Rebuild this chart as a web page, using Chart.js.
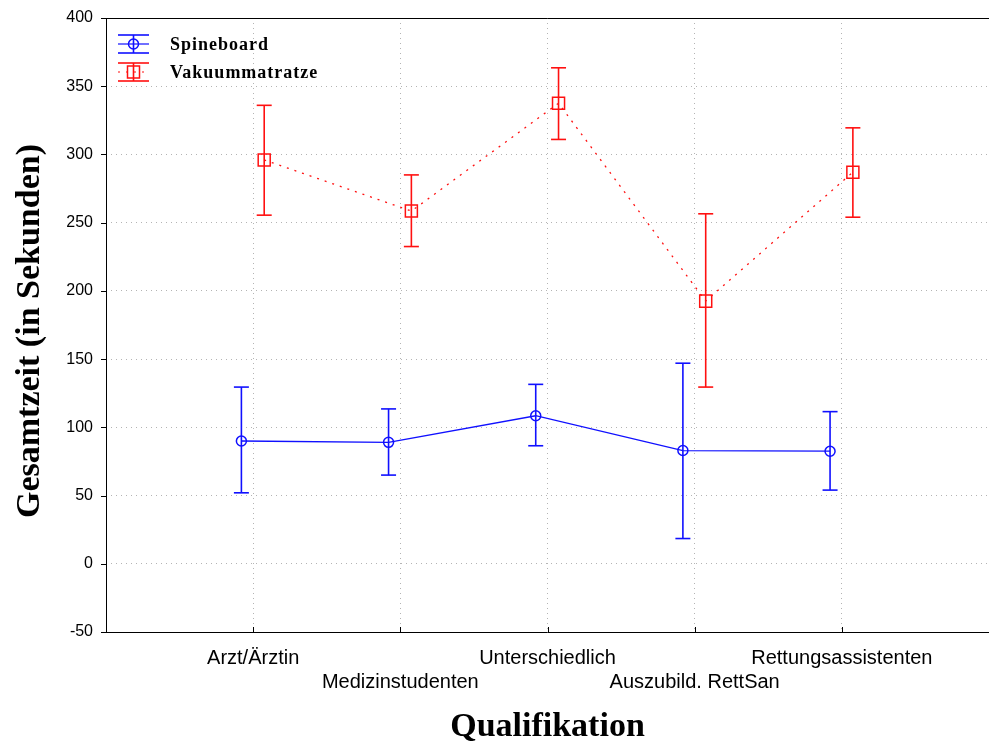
<!DOCTYPE html>
<html>
<head>
<meta charset="utf-8">
<script src="https://cdn.jsdelivr.net/npm/chart.js@4/dist/chart.umd.min.js"></script>
<style>
html, body { margin: 0; padding: 0; background: #fff; }
#wrap { width: 992px; height: 751px; position: relative; }
</style>
</head>
<body>
<div id="wrap"><canvas id="chart"></canvas></div>
<script>
// Mittelwerte mit Konfidenzintervall, je Qualifikation
const categories = ['Arzt/Ärztin', 'Medizinstudenten', 'Unterschiedlich', 'Auszubild. RettSan', 'Rettungsassistenten'];
const seriesNames = ['Spineboard', 'Vakuummatratze'];
const spineMean = [90, 89, 108.5, 83, 82.5];
const spineLow = [52, 65, 86.5, 18.5, 54];
const spineHigh = [129.5, 113.5, 131.5, 147, 111.5];
const vakuumMean = [296, 258.5, 337.5, 192.5, 287];
const vakuumLow = [255.5, 232.5, 311, 129.5, 254];
const vakuumHigh = [336, 285, 363.5, 256.5, 319.5];
const yTicks = [-50, 0, 50, 100, 150, 200, 250, 300, 350, 400];

const BLUE = '#1010ff';
const RED = '#ff1010';
const GRID = '#b4b4b4';
const NONE = 'rgba(0,0,0,0)';
const SERIF = '"Liberation Serif", "Times New Roman", serif';
const SANS = '"Liberation Sans", Arial, sans-serif';

function points(values, shift) {
    return values.map((v, i) => ({ x: i + 1 + shift, y: v }));
}

const series = [
    { name: seriesNames[0], mean: spineMean, low: spineLow, high: spineHigh, color: BLUE, shift: -0.08, dash: [], style: 'circle', radius: 5 },
    { name: seriesNames[1], mean: vakuumMean, low: vakuumLow, high: vakuumHigh, color: RED, shift: 0.075, dash: [2, 6], style: 'rect', radius: 8.5 }
];

function line(ctx, x1, y1, x2, y2) {
    ctx.beginPath();
    ctx.moveTo(x1, y1);
    ctx.lineTo(x2, y2);
    ctx.stroke();
}

const extras = {
    id: 'extras',
    afterDatasetsDraw(chart) {
        const ctx = chart.ctx;
        const xs = chart.scales.x, ys = chart.scales.y;
        ctx.save();
        ctx.lineWidth = 1.6;
        for (const s of series) {
            ctx.strokeStyle = s.color;
            for (let i = 0; i < s.mean.length; i++) {
                const px = xs.getPixelForValue(i + 1 + s.shift);
                const top = ys.getPixelForValue(s.high[i]);
                const bot = ys.getPixelForValue(s.low[i]);
                line(ctx, px, top, px, bot);
                line(ctx, px - 7.5, top, px + 7.5, top);
                line(ctx, px - 7.5, bot, px + 7.5, bot);
            }
        }
        ctx.restore();
    },
    afterDraw(chart) {
        const ctx = chart.ctx;
        const a = chart.chartArea;
        const xs = chart.scales.x, ys = chart.scales.y;
        ctx.save();
        // frame
        ctx.strokeStyle = '#000';
        ctx.lineWidth = 1;
        line(ctx, a.left + 0.5, a.top, a.left + 0.5, a.bottom);
        line(ctx, a.left, a.bottom + 0.5, a.right, a.bottom + 0.5);
        line(ctx, a.left, a.top + 0.5, a.right, a.top + 0.5);
        for (const v of yTicks) {
            const py = Math.round(ys.getPixelForValue(v)) + 0.5;
            line(ctx, a.left - 5, py, a.left, py);
        }
        for (let i = 1; i <= categories.length; i++) {
            const px = Math.round(xs.getPixelForValue(i)) + 0.5;
            line(ctx, px, a.bottom - 5, px, a.bottom);
        }

        // legend
        series.forEach((s, k) => {
            const y = 44 + k * 28;
            const x0 = 118, x1 = 149, xc = 133.5;
            ctx.strokeStyle = s.color;
            ctx.lineWidth = 1.6;
            line(ctx, x0, y - 9, x1, y - 9);
            line(ctx, x0, y + 9, x1, y + 9);
            line(ctx, xc, y - 9, xc, y + 9);
            ctx.lineWidth = 1.2;
            ctx.setLineDash(s.dash);
            line(ctx, x0, y, x1, y);
            ctx.setLineDash([]);
            ctx.lineWidth = 1.5;
            ctx.beginPath();
            if (s.style === 'circle') {
                ctx.arc(xc, y, 5, 0, Math.PI * 2);
            } else {
                ctx.rect(xc - 6, y - 6, 12, 12);
            }
            ctx.stroke();
            ctx.fillStyle = '#000';
            ctx.font = 'bold 18px ' + SERIF;
            ctx.letterSpacing = '1px';
            ctx.textAlign = 'left';
            ctx.textBaseline = 'middle';
            ctx.fillText(s.name, 170, y + 1);
            ctx.letterSpacing = '0px';
        });

        // axis titles
        ctx.fillStyle = '#000';
        ctx.font = 'bold 34px ' + SERIF;
        ctx.textAlign = 'center';
        ctx.textBaseline = 'middle';
        ctx.fillText('Qualifikation', (a.left + a.right) / 2, 727);
        ctx.translate(30, 331);
        ctx.rotate(-Math.PI / 2);
        ctx.fillText('Gesamtzeit (in Sekunden)', 0, 0);
        ctx.restore();
    }
};

const datasets = series.map(s => ({
    label: s.name,
    data: points(s.mean, s.shift),
    borderColor: s.color,
    backgroundColor: NONE,
    borderWidth: 1.3,
    borderDash: s.dash,
    pointStyle: s.style,
    pointRadius: s.radius,
    pointBorderWidth: 1.5,
    pointBorderColor: s.color,
    pointBackgroundColor: NONE,
    tension: 0
}));

new Chart(document.getElementById('chart'), {
    type: 'line',
    data: { datasets: datasets },
    options: {
        responsive: true,
        maintainAspectRatio: false,
        animation: false,
        layout: { autoPadding: false, padding: { left: 0, top: 18, right: 3, bottom: 0 } },
        plugins: {
            legend: { display: false },
            tooltip: { enabled: false }
        },
        scales: {
            x: {
                type: 'linear',
                min: 0,
                max: 6,
                afterFit: scale => {
                    scale.height = 119;
                    scale.paddingLeft = 0;
                    scale.paddingRight = 0;
                },
                afterBuildTicks: scale => { scale.ticks = [0, 1, 2, 3, 4, 5, 6].map(v => ({ value: v })); },
                ticks: {
                    autoSkip: false,
                    maxRotation: 0,
                    padding: 0,
                    color: '#000',
                    font: { family: SANS, size: 20, lineHeight: 1.2 },
                    callback: v => {
                        if (v < 1 || v > categories.length) return '';
                        return v % 2 === 1 ? categories[v - 1] : ['', categories[v - 1]];
                    }
                },
                grid: {
                    drawTicks: true,
                    tickLength: 14,
                    tickColor: NONE,
                    color: c => (c.tick && c.tick.value >= 1 && c.tick.value <= 5) ? GRID : NONE
                },
                border: { display: false, dash: [1, 4] }
            },
            y: {
                min: -50,
                max: 400,
                afterFit: scale => {
                    scale.width = 106;
                    scale.paddingTop = 0;
                    scale.paddingBottom = 0;
                },
                afterBuildTicks: scale => { scale.ticks = yTicks.map(v => ({ value: v })); },
                ticks: {
                    padding: 0,
                    color: '#000',
                    font: { family: SANS, size: 16 }
                },
                grid: {
                    drawTicks: true,
                    tickLength: 13,
                    tickColor: NONE,
                    color: c => (c.tick && c.tick.value > -50 && c.tick.value < 400) ? GRID : NONE
                },
                border: { display: false, dash: [1, 4] }
            }
        }
    },
    plugins: [extras]
});
</script>
</body>
</html>
